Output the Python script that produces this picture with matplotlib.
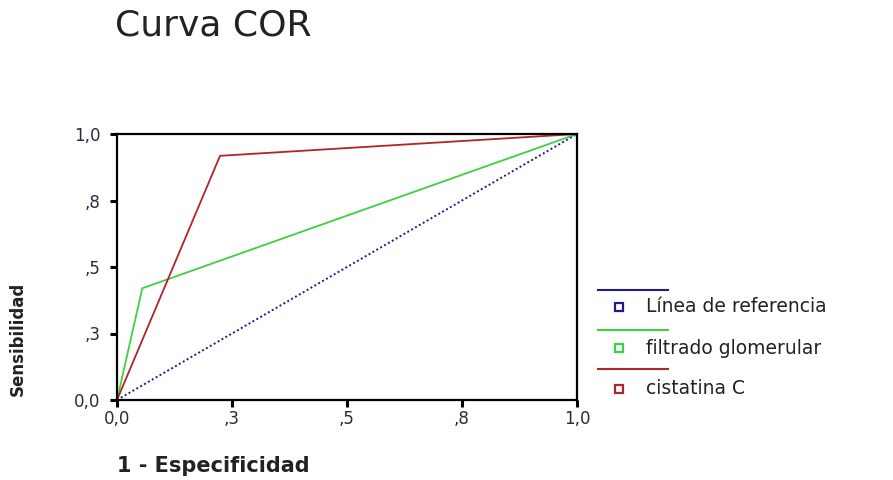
import matplotlib
matplotlib.use("Agg")
import matplotlib.pyplot as plt
from matplotlib.lines import Line2D

# ---- data ----
ref_x = [0.0, 1.0]
ref_y = [0.0, 1.0]
fg_x = [0.0, 0.055, 1.0]          # filtrado glomerular
fg_y = [0.0, 0.42, 1.0]
cc_x = [0.0, 0.224, 1.0]          # cistatina C
cc_y = [0.0, 0.918, 1.0]
tick_vals = [0.0, 0.25, 0.5, 0.75, 1.0]
tick_labels = ["0,0", ",3", ",5", ",8", "1,0"]
legend_labels = ["Línea de referencia", "filtrado glomerular", "cistatina C"]
title = "Curva COR"
xlabel = "1 - Especificidad"
ylabel = "Sensibilidad"

c_ref = "#1c1c8c"
c_fg = "#3fd03f"
c_cc = "#b0242a"
txt = "#222222"

fig = plt.figure(figsize=(8.93, 4.80), dpi=100)
W, H = 893, 480
ax = fig.add_axes([117 / W, (H - 400) / H, (577 - 117) / W, (400 - 134) / H])

ax.plot(ref_x, ref_y, color=c_ref, lw=1.4, ls=(0, (1, 1.3)))
ax.plot(fg_x, fg_y, color=c_fg, lw=1.3)
ax.plot(cc_x, cc_y, color=c_cc, lw=1.3)

ax.set_xlim(0, 1)
ax.set_ylim(0, 1)
ax.set_xticks(tick_vals)
ax.set_xticklabels(tick_labels)
ax.set_yticks(tick_vals)
ax.set_yticklabels(tick_labels)
for s in ax.spines.values():
    s.set_linewidth(1.6)
    s.set_color("black")
ax.tick_params(direction="out", length=5, width=2.2, colors="black",
               labelsize=12, labelcolor="#2a2a40")
ax.tick_params(axis="x", pad=2)
ax.tick_params(axis="y", pad=7)
for lab in ax.get_xticklabels() + ax.get_yticklabels():
    lab.set_family("DejaVu Sans")

fig.text(115 / W, (H - 26) / H, title, fontsize=26, color=txt,
         family="DejaVu Sans", ha="left", va="center")
fig.text(117 / W, (H - 466) / H, xlabel, fontsize=15, fontweight="bold",
         color=txt, family="DejaVu Sans", ha="left", va="center")
fig.text(18 / W, (H - 339) / H, ylabel, fontsize=12, fontweight="bold",
         color=txt, family="DejaVu Sans", rotation=90, ha="center", va="center")

# ---- legend (SPSS style: line above, square marker + label below) ----
colors = [c_ref, c_fg, c_cc]
line_y = [290, 330, 369]
mark_y = [307, 348, 389]
for lab, col, ly, my in zip(legend_labels, colors, line_y, mark_y):
    fig.add_artist(Line2D([598 / W, 668 / W], [(H - ly) / H, (H - ly) / H],
                          color=col, lw=1.5, transform=fig.transFigure))
    fig.add_artist(Line2D([619 / W], [(H - my) / H], marker="s", markersize=6,
                          markerfacecolor="white", markeredgecolor=col,
                          markeredgewidth=1.6, ls="none",
                          transform=fig.transFigure))
    fig.text(646 / W, (H - my) / H, lab, fontsize=13.5, color=txt,
             family="DejaVu Sans", ha="left", va="center")

fig.savefig("out.png", dpi=100)
